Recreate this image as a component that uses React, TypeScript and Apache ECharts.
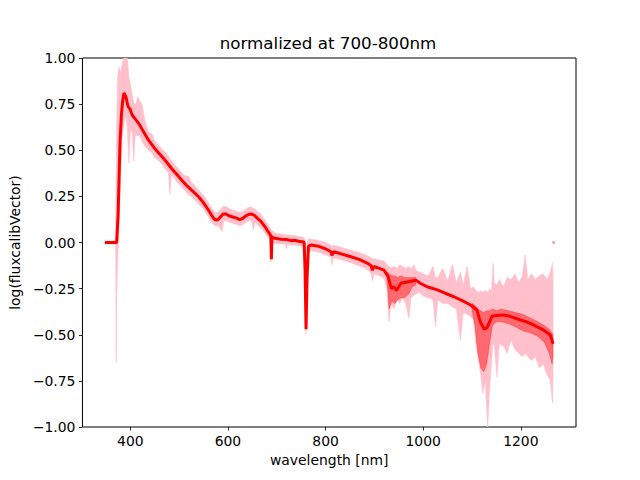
import React, { useEffect, useRef } from "react";
import * as echarts from "echarts";

// ---- data ----
const lineWl = [348, 360, 372, 375, 377, 379, 382, 384, 387, 391, 395, 400, 404, 410, 417, 425, 437, 450, 460, 471, 485, 495, 505, 515, 525, 540, 550, 560, 566, 571, 575, 580, 585, 590, 596, 602, 610, 618, 624, 630, 636, 642, 648, 654, 660, 668, 676, 682, 686, 688, 689, 690, 696, 709, 720, 730, 736, 745, 756, 758, 760, 762, 765, 770, 785, 800, 811, 813, 816, 830, 852, 870, 886, 893, 896, 899, 910, 920, 928, 935, 940, 945, 950, 955, 965, 975, 985, 995, 1008, 1029, 1045, 1063, 1080, 1097, 1110, 1117, 1125, 1131, 1136, 1141, 1150, 1165, 1178, 1199, 1212, 1226, 1246, 1260, 1264, 1266];
const lineVal = [0, 0, 0, 0.15, 0.35, 0.55, 0.7, 0.76, 0.81, 0.79, 0.74, 0.72, 0.69, 0.67, 0.646, 0.61, 0.556, 0.51, 0.48, 0.447, 0.4, 0.37, 0.339, 0.31, 0.285, 0.248, 0.215, 0.176, 0.15, 0.13, 0.122, 0.125, 0.14, 0.155, 0.155, 0.145, 0.138, 0.132, 0.124, 0.13, 0.143, 0.152, 0.154, 0.148, 0.132, 0.113, 0.085, 0.06, 0.045, 0.035, -0.09, 0.03, 0.023, 0.018, 0.016, 0.01, 0.012, 0.007, 0.003, -0.15, -0.47, -0.2, -0.02, -0.014, -0.02, -0.035, -0.05, -0.07, -0.05, -0.06, -0.077, -0.093, -0.113, -0.125, -0.15, -0.13, -0.14, -0.15, -0.185, -0.25, -0.24, -0.26, -0.24, -0.22, -0.215, -0.21, -0.205, -0.222, -0.24, -0.257, -0.275, -0.294, -0.315, -0.339, -0.366, -0.43, -0.47, -0.46, -0.43, -0.4, -0.395, -0.393, -0.4, -0.42, -0.43, -0.447, -0.474, -0.5, -0.53, -0.55];

const loneWl = [1267];
const loneVal = [0];

const bandWl = [348, 370, 371, 372, 374, 377, 380, 383, 386, 390, 394, 397, 400, 404, 407, 410, 415, 419, 424, 430, 437, 444, 450, 460, 471, 478, 481, 484, 495, 505, 512, 519, 525, 532, 540, 550, 560, 566, 571, 575, 580, 585, 588, 591, 596, 602, 610, 618, 624, 630, 636, 642, 648, 652, 656, 660, 668, 676, 682, 686, 688, 690, 696, 709, 718, 720, 722, 736, 745, 756, 758, 760, 762, 765, 770, 785, 800, 811, 813, 816, 830, 852, 870, 886, 893, 896, 899, 910, 920, 926, 930, 934, 940, 946, 952, 958, 964, 971, 975, 981, 985, 992, 1000, 1010, 1020, 1025, 1030, 1040, 1050, 1060, 1068, 1076, 1082, 1090, 1097, 1103, 1108, 1114, 1118, 1122, 1127, 1132, 1136, 1140, 1143, 1146, 1151, 1156, 1164, 1172, 1180, 1188, 1196, 1203, 1209, 1214, 1222, 1230, 1238, 1246, 1254, 1260, 1265, 1266];
const bandHi = [0.008, 0.008, 0.3, 0.6, 0.9, 0.95, 0.92, 0.96, 1.0, 1.0, 1.0, 0.9, 0.86, 0.8, 0.76, 0.74, 0.79, 0.77, 0.75, 0.66, 0.6, 0.59, 0.55, 0.52, 0.49, 0.47, 0.45, 0.445, 0.41, 0.38, 0.36, 0.36, 0.325, 0.31, 0.285, 0.255, 0.215, 0.19, 0.17, 0.16, 0.165, 0.18, 0.19, 0.195, 0.195, 0.185, 0.175, 0.17, 0.162, 0.168, 0.18, 0.19, 0.192, 0.185, 0.18, 0.17, 0.152, 0.122, 0.097, 0.082, 0.072, 0.065, 0.052, 0.046, 0.042, 0.04, 0.04, 0.038, 0.032, 0.028, 0.0, -0.2, 0.0, 0.02, 0.018, 0.012, 0.0, -0.015, -0.02, -0.015, -0.025, -0.042, -0.055, -0.072, -0.082, -0.09, -0.088, -0.095, -0.1, -0.12, -0.13, -0.14, -0.13, -0.14, -0.12, -0.13, -0.14, -0.13, -0.145, -0.12, -0.15, -0.16, -0.17, -0.18, -0.13, -0.19, -0.19, -0.14, -0.21, -0.12, -0.22, -0.16, -0.23, -0.13, -0.25, -0.24, -0.26, -0.27, -0.26, -0.27, -0.26, -0.27, -0.25, -0.26, -0.113, -0.22, -0.23, -0.2, -0.24, -0.19, -0.2, -0.17, -0.22, -0.18, -0.068, -0.2, -0.17, -0.2, -0.18, -0.17, -0.2, -0.16, -0.113, -0.2];
const bandLo = [-0.008, -0.008, -0.65, -0.3, -0.1, 0.1, 0.35, 0.55, 0.62, 0.7, 0.62, 0.43, 0.6, 0.6, 0.44, 0.58, 0.58, 0.58, 0.55, 0.52, 0.5, 0.49, 0.46, 0.44, 0.4, 0.38, 0.26, 0.37, 0.33, 0.3, 0.28, 0.26, 0.25, 0.23, 0.21, 0.18, 0.14, 0.115, 0.095, 0.09, 0.09, 0.07, 0.06, 0.115, 0.12, 0.11, 0.104, 0.098, 0.09, 0.097, 0.108, 0.116, 0.118, 0.07, 0.11, 0.096, 0.077, 0.05, 0.027, 0.012, -0.11, 0.0, -0.005, -0.008, -0.01, -0.035, -0.012, -0.015, -0.018, -0.022, -0.3, -0.5, -0.3, -0.05, -0.045, -0.052, -0.068, -0.08, -0.12, -0.083, -0.092, -0.11, -0.128, -0.148, -0.165, -0.21, -0.17, -0.18, -0.195, -0.26, -0.43, -0.33, -0.36, -0.31, -0.33, -0.3, -0.33, -0.41, -0.3, -0.285, -0.28, -0.27, -0.29, -0.3, -0.31, -0.456, -0.31, -0.33, -0.33, -0.35, -0.36, -0.53, -0.38, -0.39, -0.4, -0.42, -0.55, -0.65, -0.72, -0.82, -0.75, -1.0, -0.8, -0.65, -0.55, -0.56, -0.73, -0.55, -0.56, -0.6, -0.53, -0.58, -0.6, -0.62, -0.6, -0.62, -0.64, -0.62, -0.68, -0.66, -0.72, -0.745, -0.87, -0.7];

const spreadAWl = [926, 930, 936, 942, 948, 955, 962, 970, 978, 985];
const spreadAHi = [-0.16, -0.17, -0.18, -0.18, -0.19, -0.18, -0.19, -0.19, -0.19, -0.19];
const spreadALo = [-0.2, -0.36, -0.32, -0.33, -0.31, -0.3, -0.3, -0.28, -0.24, -0.23];

const spreadBWl = [1100, 1106, 1112, 1118, 1124, 1130, 1136, 1142, 1150, 1160, 1175, 1190, 1205, 1220, 1235, 1248, 1258, 1264, 1266];
const spreadBHi = [-0.33, -0.34, -0.36, -0.37, -0.38, -0.37, -0.37, -0.36, -0.37, -0.36, -0.37, -0.38, -0.39, -0.41, -0.43, -0.45, -0.47, -0.49, -0.5];
const spreadBLo = [-0.37, -0.45, -0.6, -0.68, -0.7, -0.66, -0.55, -0.45, -0.43, -0.43, -0.44, -0.46, -0.48, -0.49, -0.51, -0.54, -0.6, -0.66, -0.62];

const xTicks = [400, 600, 800, 1000, 1200];
const titleText = "normalized at 700-800nm";
const xName = "wavelength [nm]";
const yName = "log(fluxcalibVector)";

const FONT = "DejaVu Sans";

function bandSeries(wl: number[], hi: number[], lo: number[], fill: string, opacity: number, z: number) {
  return {
    type: "custom",
    coordinateSystem: "cartesian2d",
    data: [[wl[0], hi[0]]],
    clip: true,
    silent: true,
    z,
    renderItem: (_params: any, api: any) => {
      const pts: number[][] = [];
      for (let i = 0; i < wl.length; i++) pts.push(api.coord([wl[i], hi[i]]));
      for (let i = wl.length - 1; i >= 0; i--) pts.push(api.coord([wl[i], lo[i]]));
      return {
        type: "polygon",
        shape: { points: pts },
        style: { fill, opacity, stroke: fill, lineWidth: 0.6 },
      };
    },
  };
}

export default function App() {
  const ref = useRef<HTMLDivElement>(null);
  useEffect(() => {
    if (!ref.current) return;
    const chart = echarts.init(ref.current, null, { renderer: "svg" });
    const fmtY = (v: number) => (v < 0 ? "\u2212" : "") + Math.abs(v).toFixed(2);
    chart.setOption({
      animation: false,
      backgroundColor: "#ffffff",
      grid: {
        left: 80,
        right: 64,
        top: 58,
        bottom: 53,
        show: true,
        borderColor: "#000",
        borderWidth: 1,
        backgroundColor: "transparent",
      },
      graphic: [
        {
          type: "text",
          x: 328,
          y: 43,
          style: {
            text: titleText,
            fill: "#000",
            fontSize: 16.7,
            fontFamily: FONT,
            align: "center",
            verticalAlign: "middle",
          },
        },
      ],
      xAxis: {
        type: "value",
        min: 302,
        max: 1313,
        axisLine: { show: false, onZero: false },
        splitLine: { show: false },
        axisTick: { show: true, length: 3.5, lineStyle: { color: "#000", width: 0.8 }, customValues: xTicks },
        axisLabel: {
          customValues: xTicks,
          color: "#000",
          fontSize: 13.9,
          fontFamily: FONT,
          margin: 7,
          formatter: (v: number) => String(v),
        },
        name: xName,
        nameLocation: "middle",
        nameGap: 26,
        nameTextStyle: { color: "#000", fontSize: 13.9, fontFamily: FONT, verticalAlign: "top" },
      },
      yAxis: {
        type: "value",
        min: -1,
        max: 1,
        interval: 0.25,
        axisLine: { show: false, onZero: false },
        splitLine: { show: false },
        axisTick: { show: true, length: 3.5, lineStyle: { color: "#000", width: 0.8 } },
        axisLabel: { color: "#000", fontSize: 13.9, fontFamily: FONT, margin: 7, formatter: fmtY },
        name: yName,
        nameLocation: "middle",
        nameGap: 57,
        nameTextStyle: { color: "#000", fontSize: 13.9, fontFamily: FONT },
      },
      series: [
        bandSeries(bandWl, bandHi, bandLo, "#ffc0cb", 1, 1),
        bandSeries(spreadAWl, spreadAHi, spreadALo, "#ff0000", 0.45, 2),
        bandSeries(spreadBWl, spreadBHi, spreadBLo, "#ff0000", 0.45, 2),
        {
          type: "line",
          data: lineWl.map((w, i) => [w, lineVal[i]]),
          symbol: "none",
          clip: true,
          lineStyle: { color: "#ff0000", width: 3 },
          z: 3,
          silent: true,
        },
        {
          type: "scatter",
          data: loneWl.map((w, i) => [w, loneVal[i]]),
          symbolSize: 3,
          itemStyle: { color: "#ff8080" },
          z: 3,
          silent: true,
        },
      ],
    });
    return () => chart.dispose();
  }, []);
  return <div ref={ref} style={{ position: "fixed", left: 0, top: 0, width: 640, height: 480 }} />;
}
